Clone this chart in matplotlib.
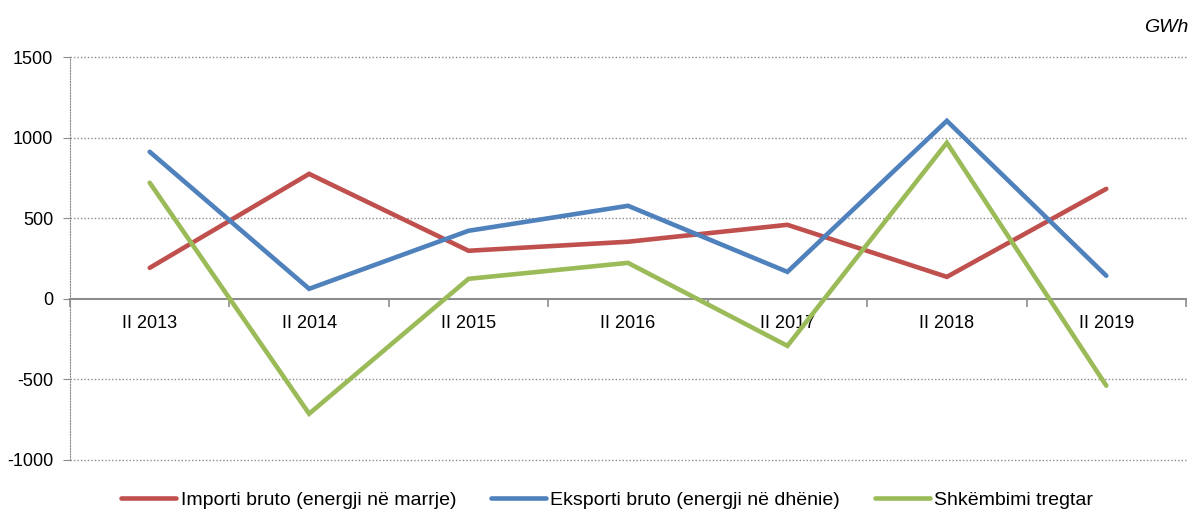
import numpy as np
import matplotlib.pyplot as plt

# data (GWh)
periods = ['II 2013', 'II 2014', 'II 2015', 'II 2016', 'II 2017', 'II 2018', 'II 2019']
importi = [192, 775, 298, 354, 459, 136, 682]
eksporti = [912, 62, 422, 577, 167, 1104, 143]
shkembimi = [720, -713, 124, 223, -292, 968, -539]
series_names = ['Importi bruto (energji në marrje)',
                'Eksporti bruto (energji në dhënie)',
                'Shkëmbimi tregtar']
yticks = [-1000, -500, 0, 500, 1000, 1500]

plt.rcParams['font.family'] = ['Liberation Sans', 'DejaVu Sans']

fig = plt.figure(figsize=(11.91, 5.15), dpi=100)
ax = fig.add_axes([70/1191, 1-460/515, (1186-70)/1191, (460-57)/515])

x = np.arange(len(periods))
colors = ['#C0504D', '#4F81BD', '#9BBB59']
for vals, c, lab in zip([importi, eksporti, shkembimi], colors, series_names):
    ax.plot(x, vals, color=c, lw=3.3, label=lab, solid_capstyle='round',
            solid_joinstyle='miter', zorder=3)

ax.set_xlim(-0.5, len(periods)-0.5)
ax.set_ylim(-1000, 1500)
ax.set_yticks(yticks)
ax.set_yticklabels([str(v) for v in yticks], fontsize=13)
for v in yticks:
    if v != 0:
        ax.axhline(v, color='#8C8C8C', lw=1, ls=(0, (1, 1.5)), zorder=1, clip_on=False)

for s in ['top', 'right']:
    ax.spines[s].set_visible(False)
ax.spines['left'].set_color('#8C8C8C')
ax.spines['left'].set_linestyle((0, (1, 1.5)))
ax.spines['bottom'].set_position(('data', 0))
ax.spines['bottom'].set_color('#8C8C8C')
ax.spines['bottom'].set_linewidth(1.5)

ax.tick_params(axis='y', length=5, color='#8C8C8C', pad=7)
ax.set_xticks(np.arange(len(periods)+1) - 0.5)
ax.set_xticklabels([])
ax.tick_params(axis='x', which='major', length=6, width=1.2, color='#8C8C8C')
ax.set_xticks(x, minor=True)
ax.set_xticklabels(periods, minor=True, fontsize=13)
ax.tick_params(axis='x', which='minor', length=0, pad=12)

fig.text(1188/1191, 1-27/515, 'GWh', style='italic', fontsize=14,
         ha='right', va='center')

fig.legend(loc='center', bbox_to_anchor=(0.51, 1-500/515), ncol=3, frameon=False,
           fontsize=14, handlelength=2.8, handletextpad=0.25, columnspacing=1.8)

fig.savefig('out.png', dpi=100)
